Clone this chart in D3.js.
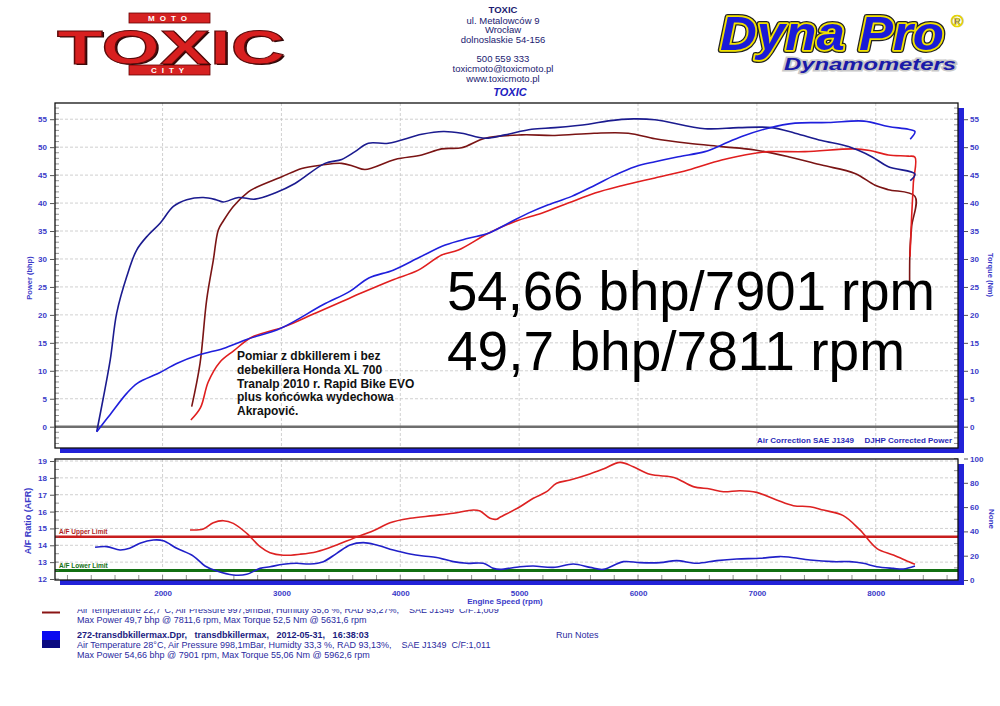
<!DOCTYPE html>
<html><head><meta charset="utf-8">
<script src="https://cdn.jsdelivr.net/npm/d3@7"></script>
<style>
body{margin:0;background:#fff;}
svg{display:block;}
text{font-family:"Liberation Sans",Arial,sans-serif;}
</style></head><body>
<svg id="c" width="1000" height="706"></svg>
<script>
// ---------- DATA ----------
const powerTicks = [0,5,10,15,20,25,30,35,40,45,50,55];
const afrTicks = [12,13,14,15,16,17,18,19];
const noneTicks = [0,20,40,60,80,100];
const rpmTicks = [2000,3000,4000,5000,6000,7000,8000];
const afrUpperLimit = 14.5;
const afrLowerLimit = 12.5;

// run 2 (blue) torque Nm
const run2Torque = [[1446,-0.9],[1500,5],[1560,12],[1614,20.3],[1698,26.8],[1782,31.6],[1880,34.3],[1979,36.4],[2091,39.4],[2203,40.6],[2343,41.0],[2450,40.6],[2511,40.2],[2638,41.0],[2778,40.7],[2946,41.8],[3114,43.5],[3366,47.1],[3507,47.8],[3619,49.2],[3731,50.7],[3899,50.7],[4180,52.3],[4362,52.8],[4517,52.5],[4713,51.6],[4881,52.2],[5105,53.2],[5301,53.5],[5582,54.1],[5750,54.7],[5962,55.06],[6143,54.9],[6563,53.3],[6844,53.5],[7124,53.5],[7321,52.5],[7545,51.2],[7769,50.1],[7966,48.3],[8106,46.5],[8330,45.2],[8290,44.0]];
// run 2 (blue) power bhp
const run2Power = [[1446,-0.9],[1516,1.0],[1560,2.2],[1700,6.0],[1790,7.8],[1970,9.6],[2119,11.3],[2315,12.9],[2511,14.0],[2707,15.6],[2995,17.6],[3349,21.8],[3575,24.2],[3735,26.6],[3940,28.0],[4170,30.4],[4378,32.5],[4572,33.7],[4741,34.6],[4909,36.4],[5077,38.2],[5245,39.7],[5442,41.2],[5638,43.2],[5806,45.0],[5975,46.5],[6143,47.4],[6339,48.3],[6563,49.2],[6704,50.4],[6872,51.9],[7096,53.4],[7321,54.3],[7601,54.4],[7901,54.66],[8106,53.7],[8274,53.2],[8330,52.8],[8290,51.4]];
// run 1 (red) torque Nm
const run1Torque = [[2245,3.6],[2315,11.3],[2371,22.7],[2427,29.8],[2469,35.2],[2511,36.8],[2595,39.4],[2722,42.0],[2778,42.7],[3003,44.7],[3171,46.2],[3339,46.8],[3507,47.1],[3619,46.5],[3703,46.0],[3955,47.8],[4180,48.6],[4348,49.7],[4517,49.9],[4713,51.6],[5021,52.2],[5301,52.1],[5631,52.5],[5918,52.5],[6143,51.5],[6423,50.7],[6704,50.1],[6984,49.5],[7264,48.3],[7545,46.8],[7825,45.3],[7994,43.2],[8106,42.4],[8330,41.2],[8302,35.8],[8288,31.6],[8285,26.0]];
// run 1 (red) power bhp
const run1Power = [[2238,1.2],[2319,3.4],[2384,8.0],[2480,11.5],[2600,13.6],[2750,16.0],[3027,17.9],[3284,20.3],[3510,22.4],[3671,23.9],[3929,26.2],[4152,28.0],[4348,30.7],[4489,31.6],[4741,34.6],[4965,36.7],[5189,38.2],[5413,40.0],[5638,41.8],[5862,43.1],[6002,43.8],[6143,44.5],[6423,45.9],[6704,47.7],[6984,48.9],[7096,49.2],[7405,49.2],[7811,49.7],[7950,49.4],[8106,48.6],[8274,48.4],[8330,48.2],[8316,43.5],[8302,37.6],[8288,30.4]];
// AFR run 2 (blue)
const run2Afr = [[1432,13.88],[1530,13.92],[1642,13.72],[1723,13.82],[1810,14.12],[1922,14.31],[2006,14.27],[2119,13.82],[2259,13.36],[2357,12.77],[2456,12.47],[2595,12.24],[2708,12.28],[2820,12.63],[2904,12.73],[3016,12.87],[3128,12.93],[3241,12.89],[3353,13.03],[3465,13.52],[3577,14.02],[3689,14.16],[3801,14.02],[3941,13.72],[4082,13.48],[4194,13.36],[4306,13.28],[4446,13.03],[4559,12.93],[4699,12.93],[4783,12.63],[4839,12.57],[5007,12.73],[5119,12.77],[5287,12.69],[5456,12.89],[5596,12.69],[5708,12.57],[5877,13.03],[6016,12.97],[6185,12.97],[6325,13.09],[6494,12.93],[6662,13.09],[6830,13.19],[7026,13.23],[7194,13.33],[7279,13.29],[7447,13.13],[7643,13.03],[7783,13.03],[7895,12.93],[8008,12.73],[8148,12.63],[8232,12.59],[8330,12.77]];
// AFR run 1 (red)
const run1Afr = [[2231,14.91],[2343,14.97],[2427,15.34],[2511,15.46],[2595,15.30],[2708,14.71],[2820,13.92],[2904,13.56],[3016,13.41],[3156,13.47],[3297,13.62],[3465,14.02],[3605,14.41],[3773,14.86],[3914,15.34],[4082,15.60],[4278,15.76],[4446,15.90],[4615,16.09],[4671,16.03],[4755,15.60],[4811,15.55],[4839,15.66],[5007,16.29],[5119,16.79],[5231,17.18],[5315,17.68],[5428,17.87],[5568,18.17],[5708,18.53],[5848,18.92],[5960,18.66],[6100,18.21],[6269,18.07],[6325,17.97],[6465,17.48],[6605,17.34],[6718,17.18],[6858,17.24],[6998,17.14],[7166,16.69],[7307,16.35],[7447,16.29],[7559,16.09],[7727,15.76],[7867,14.91],[8008,13.82],[8148,13.42],[8288,12.99],[8330,12.87]];

const headerLines = ["ul. Metalowców 9","Wrocław","dolnoslaskie 54-156","","500 559 333","toxicmoto@toxicmoto.pl","www.toxicmoto.pl"];
const noteLines = ["Pomiar z dbkillerem i bez","debekillera Honda XL 700","Tranalp 2010 r. Rapid Bike EVO","plus końcówka wydechowa","Akrapović."];
const bigLines = ["54,66 bhp/7901 rpm","49,7 bhp/7811 rpm"];
const legendRun1 = ["Air Temperature 22,7°C, Air Pressure 997,9mBar, Humidty 35,8 %, RAD 93,27%,    SAE J1349  C/F:1,009","Max Power 49,7 bhp @ 7811,6 rpm, Max Torque 52,5 Nm @ 5631,6 rpm"];
const legendRun2 = ["272-transdbkillermax.Dpr,   transdbkillermax,   2012-05-31,   16:38:03","Air Temperature 28°C, Air Pressure 998,1mBar, Humidty 33,3 %, RAD 93,13%,    SAE J1349  C/F:1,011","Max Power 54,66 bhp @ 7901 rpm, Max Torque 55,06 Nm @ 5962,6 rpm"];

// ---------- DRAW ----------
const svg = d3.select("#c");
svg.append("rect").attr("width",1000).attr("height",706).attr("fill","#fff");
const AX = "#3a3ac8";
const L=55, R=958;
const x = d3.scaleLinear().domain([1095,8692]).range([L,R]);
const yTop = d3.scaleLinear().domain([-3.81,57.9]).range([448,103]);
const yAfr = d3.scaleLinear().domain([11.94,19.12]).range([580,459]);
const yNone = d3.scaleLinear().domain([0,100]).range([580,458.5]);

function panel(t,b,id){
  svg.append("rect").attr("x",L+5).attr("y",t+5).attr("width",R-L+1).attr("height",b-t).attr("fill","#2222d8");
  svg.append("rect").attr("x",L).attr("y",t).attr("width",R-L).attr("height",b-t).attr("fill","#fff");
  svg.append("clipPath").attr("id",id).append("rect").attr("x",L).attr("y",t).attr("width",R-L).attr("height",b-t);
}
panel(103,448,"clipTop");
panel(459,580,"clipAfr");

// grids
const gTop = svg.append("g");
gTop.selectAll("line.h").data(powerTicks.filter(d=>d>0)).join("line")
  .attr("x1",L).attr("x2",R).attr("y1",d=>yTop(d)).attr("y2",d=>yTop(d))
  .attr("stroke","#c4c4c4").attr("stroke-dasharray","3,2").attr("stroke-width",0.8);
gTop.selectAll("line.v").data(rpmTicks).join("line")
  .attr("x1",d=>x(d)).attr("x2",d=>x(d)).attr("y1",103).attr("y2",448)
  .attr("stroke","#c4c4c4").attr("stroke-dasharray","3,2").attr("stroke-width",0.8);
gTop.append("line").attr("x1",L).attr("x2",R).attr("y1",yTop(0)).attr("y2",yTop(0)).attr("stroke","#6e6e6e").attr("stroke-width",2.5);

const gAfr = svg.append("g");
gAfr.selectAll("line.h").data(afrTicks.filter(d=>d>12)).join("line")
  .attr("x1",L).attr("x2",R).attr("y1",d=>yAfr(d)).attr("y2",d=>yAfr(d))
  .attr("stroke","#c4c4c4").attr("stroke-dasharray","3,2").attr("stroke-width",0.8);
gAfr.selectAll("line.v").data(rpmTicks).join("line")
  .attr("x1",d=>x(d)).attr("x2",d=>x(d)).attr("y1",459).attr("y2",580)
  .attr("stroke","#c4c4c4").attr("stroke-dasharray","3,2").attr("stroke-width",0.8);

// minor ticks
const minor = svg.append("g").attr("stroke","#666").attr("stroke-width",0.7);
d3.range(-3,58,1).forEach(v=>{
  minor.append("line").attr("x1",L).attr("x2",L+4).attr("y1",yTop(v)).attr("y2",yTop(v));
  minor.append("line").attr("x1",R-4).attr("x2",R).attr("y1",yTop(v)).attr("y2",yTop(v));
});
d3.range(12,19.01,0.5).forEach(v=>{
  minor.append("line").attr("x1",L).attr("x2",L+4).attr("y1",yAfr(v)).attr("y2",yAfr(v));
});
d3.range(0,101,10).forEach(v=>{
  minor.append("line").attr("x1",R-4).attr("x2",R).attr("y1",yNone(v)).attr("y2",yNone(v));
});
d3.range(1200,8700,200).forEach(v=>{
  minor.append("line").attr("x1",x(v)).attr("x2",x(v)).attr("y1",580).attr("y2",575);
});

// limit lines
gAfr.append("line").attr("x1",L).attr("x2",R).attr("y1",yAfr(afrUpperLimit)).attr("y2",yAfr(afrUpperLimit)).attr("stroke","#c81e1e").attr("stroke-width",2.5);
gAfr.append("line").attr("x1",L).attr("x2",R).attr("y1",yAfr(afrLowerLimit)).attr("y2",yAfr(afrLowerLimit)).attr("stroke","#127012").attr("stroke-width",3);
svg.append("text").attr("x",59).attr("y",yAfr(afrUpperLimit)-2.5).text("A/F Upper Limit").attr("font-size",6.5).attr("font-weight","bold").attr("fill","#b01e1e");
svg.append("text").attr("x",59).attr("y",yAfr(afrLowerLimit)-2.5).text("A/F Lower Limit").attr("font-size",6.5).attr("font-weight","bold").attr("fill","#127012");

// curves
const lineTop = d3.line().x(d=>x(d[0])).y(d=>yTop(d[1])).curve(d3.curveCatmullRom.alpha(0.5));
const lineAfr = d3.line().x(d=>x(d[0])).y(d=>yAfr(d[1])).curve(d3.curveCatmullRom.alpha(0.5));
const cTop = svg.append("g").attr("clip-path","url(#clipTop)").attr("fill","none").attr("stroke-width",1.6).attr("stroke-linejoin","round");
cTop.append("path").attr("d",lineTop(run1Torque)).attr("stroke","#7a1414");
cTop.append("path").attr("d",lineTop(run1Power)).attr("stroke","#e01e1e");
cTop.append("path").attr("d",lineTop(run2Torque)).attr("stroke","#1b1b8f");
cTop.append("path").attr("d",lineTop(run2Power)).attr("stroke","#1f1fdc");
const cAfr = svg.append("g").attr("clip-path","url(#clipAfr)").attr("fill","none").attr("stroke-width",1.6);
cAfr.append("path").attr("d",lineAfr(run1Afr)).attr("stroke","#dd2222");
cAfr.append("path").attr("d",lineAfr(run2Afr)).attr("stroke","#2020c8");

// frames
svg.append("rect").attr("x",L).attr("y",103).attr("width",R-L).attr("height",345).attr("fill","none").attr("stroke","#111").attr("stroke-width",1.3);
svg.append("rect").attr("x",L).attr("y",459).attr("width",R-L).attr("height",121).attr("fill","none").attr("stroke","#111").attr("stroke-width",1.3);

// axes
function styleAxis(g){
  g.select(".domain").remove();
  g.selectAll(".tick line").attr("stroke","#555");
  g.selectAll(".tick text").attr("font-size",8).attr("font-weight","bold").attr("fill",AX).attr("font-family","Liberation Sans, Arial, sans-serif");
}
svg.append("g").attr("transform",`translate(${L},0)`).call(d3.axisLeft(yTop).tickValues(powerTicks).tickSize(5).tickPadding(3)).call(styleAxis);
svg.append("g").attr("transform",`translate(964,0)`).call(d3.axisRight(yTop).tickValues(powerTicks).tickSize(4).tickPadding(2)).call(styleAxis);
svg.append("g").attr("transform",`translate(${L},0)`).call(d3.axisLeft(yAfr).tickValues(afrTicks).tickSize(5).tickPadding(3)).call(styleAxis);
svg.append("g").attr("transform",`translate(964,0)`).call(d3.axisRight(yNone).tickValues(noneTicks).tickSize(4).tickPadding(2)).call(styleAxis);
svg.append("g").attr("transform",`translate(0,586)`).call(d3.axisBottom(x).tickValues(rpmTicks).tickSize(0).tickPadding(4).tickFormat(d3.format("d"))).call(styleAxis);

// axis titles
function vlabel(tx,ty,rot,s,fs){
  svg.append("text").attr("transform",`translate(${tx},${ty}) rotate(${rot})`).attr("text-anchor","middle").attr("dominant-baseline","middle")
    .attr("font-size",fs).attr("font-weight","bold").attr("fill",AX).text(s);
}
vlabel(30,278,-90,"Power (bhp)",7.5);
vlabel(990,275,90,"Torque (Nm)",7.5);
vlabel(29,521,-90,"A/F Ratio (AFR)",9);
vlabel(991,519,90,"None",8);
svg.append("text").attr("x",505).attr("y",603.5).attr("text-anchor","middle").attr("font-size",8).attr("font-weight","bold").attr("fill",AX).text("Engine Speed (rpm)");
svg.append("text").attr("x",757).attr("y",443).attr("font-size",8).attr("font-weight","bold").attr("fill","#2a2ab8").text("Air Correction SAE J1349");
svg.append("text").attr("x",952).attr("y",443).attr("text-anchor","end").attr("font-size",8).attr("font-weight","bold").attr("fill","#2a2ab8").text("DJHP Corrected Power");

// annotations
svg.append("g").selectAll("text").data(noteLines).join("text")
  .attr("x",237).attr("y",(d,i)=>360+i*13.8).attr("font-size",12).attr("font-weight","bold").attr("fill","#111").text(d=>d);
svg.append("g").selectAll("text").data(bigLines).join("text")
  .attr("x",447).attr("y",(d,i)=>310+i*60).attr("font-size",56).attr("fill","#000")
  .attr("textLength",(d,i)=>i===0?488:458).attr("lengthAdjust","spacingAndGlyphs").text(d=>d);

// header center
svg.append("text").attr("x",503).attr("y",13).attr("text-anchor","middle").attr("font-size",9.5).attr("font-weight","bold").attr("fill","#1a1a70").text("TOXIC");
svg.append("g").selectAll("text").data(headerLines).join("text")
  .attr("x",503).attr("y",(d,i)=>23.5+i*9.7).attr("text-anchor","middle").attr("font-size",9.5).attr("fill","#1a1a70").text(d=>d);
svg.append("text").attr("x",510).attr("y",96).attr("text-anchor","middle").attr("font-size",11).attr("font-weight","bold").attr("font-style","italic").attr("fill","#2020c0").text("TOXIC");

// left logo
svg.append("rect").attr("x",129).attr("y",13).attr("width",81).attr("height",10).attr("fill","#d62222").attr("stroke","#600").attr("stroke-width",0.8);
svg.append("text").attr("x",170).attr("y",21.3).attr("text-anchor","middle").attr("font-size",8).attr("font-weight","bold").attr("fill","#fff").attr("letter-spacing",5).text("MOTO");
svg.append("rect").attr("x",129).attr("y",65).attr("width",81).attr("height",10).attr("fill","#d62222").attr("stroke","#600").attr("stroke-width",0.8);
svg.append("text").attr("x",170).attr("y",73.3).attr("text-anchor","middle").attr("font-size",8).attr("font-weight","bold").attr("fill","#fff").attr("letter-spacing",5).text("CITY");
svg.append("text").attr("x",59).attr("y",65).attr("font-family","DejaVu Serif").attr("font-weight","bold").attr("font-size",49)
  .attr("textLength",228).attr("lengthAdjust","spacingAndGlyphs").attr("fill","#2a0808").text("TOXIC");
svg.append("text").attr("x",57).attr("y",63.5).attr("font-family","DejaVu Serif").attr("font-weight","bold").attr("font-size",49)
  .attr("textLength",228).attr("lengthAdjust","spacingAndGlyphs").attr("fill","#d81f1f").attr("stroke","#5a0a0a").attr("stroke-width",1).text("TOXIC");

// right logo
[["#222",6],["#f2e200",3.5]].forEach(([c,w])=>{
  svg.append("text").attr("x",720).attr("y",50).attr("font-size",49).attr("font-weight","bold").attr("font-style","italic")
    .attr("textLength",224).attr("lengthAdjust","spacingAndGlyphs").attr("fill","none").attr("stroke",c).attr("stroke-width",w).attr("stroke-linejoin","round").text("Dyna Pro");
});
svg.append("text").attr("x",720).attr("y",50).attr("font-size",49).attr("font-weight","bold").attr("font-style","italic")
  .attr("textLength",224).attr("lengthAdjust","spacingAndGlyphs").attr("fill","#1a1ad8").text("Dyna Pro");
svg.append("text").attr("x",951).attr("y",27).attr("font-size",17).attr("font-weight","bold").attr("fill","#1a1ad8").attr("stroke","#e8d800").attr("stroke-width",0.8).text("®");
svg.append("text").attr("x",784).attr("y",70).attr("font-size",17).attr("font-weight","bold").attr("font-style","italic")
  .attr("textLength",172).attr("lengthAdjust","spacingAndGlyphs").attr("fill","none").attr("stroke","#c8c8c8").attr("stroke-width",3).text("Dynamometers");
svg.append("text").attr("x",784).attr("y",70).attr("font-size",17).attr("font-weight","bold").attr("font-style","italic")
  .attr("textLength",172).attr("lengthAdjust","spacingAndGlyphs").attr("fill","#1a1aa8").text("Dynamometers");

// legend
const LG = "#2a2aa0";
svg.append("clipPath").attr("id","clipLeg").append("rect").attr("x",0).attr("y",609).attr("width",1000).attr("height",20);
svg.append("line").attr("x1",42).attr("x2",60).attr("y1",612.5).attr("y2",612.5).attr("stroke","#8a1414").attr("stroke-width",2);
svg.append("text").attr("x",77).attr("y",613).attr("clip-path","url(#clipLeg)").attr("font-size",9).attr("fill",LG).style("white-space","pre").text(legendRun1[0]);
svg.append("text").attr("x",77).attr("y",623).attr("font-size",9).attr("fill",LG).style("white-space","pre").text(legendRun1[1]);
svg.append("rect").attr("x",42).attr("y",631).attr("width",18).attr("height",9).attr("fill","#0a0af0");
svg.append("rect").attr("x",42).attr("y",640).attr("width",18).attr("height",8).attr("fill","#0a0a80");
svg.append("text").attr("x",77).attr("y",637.5).attr("font-size",9).attr("font-weight","bold").attr("fill","#1a1a80").style("white-space","pre").text(legendRun2[0]);
svg.append("text").attr("x",77).attr("y",647.5).attr("font-size",9).attr("fill",LG).style("white-space","pre").text(legendRun2[1]);
svg.append("text").attr("x",77).attr("y",657.5).attr("font-size",9).attr("fill",LG).style("white-space","pre").text(legendRun2[2]);
svg.append("text").attr("x",556).attr("y",637.5).attr("font-size",9).attr("fill",LG).text("Run Notes");
</script></body></html>
